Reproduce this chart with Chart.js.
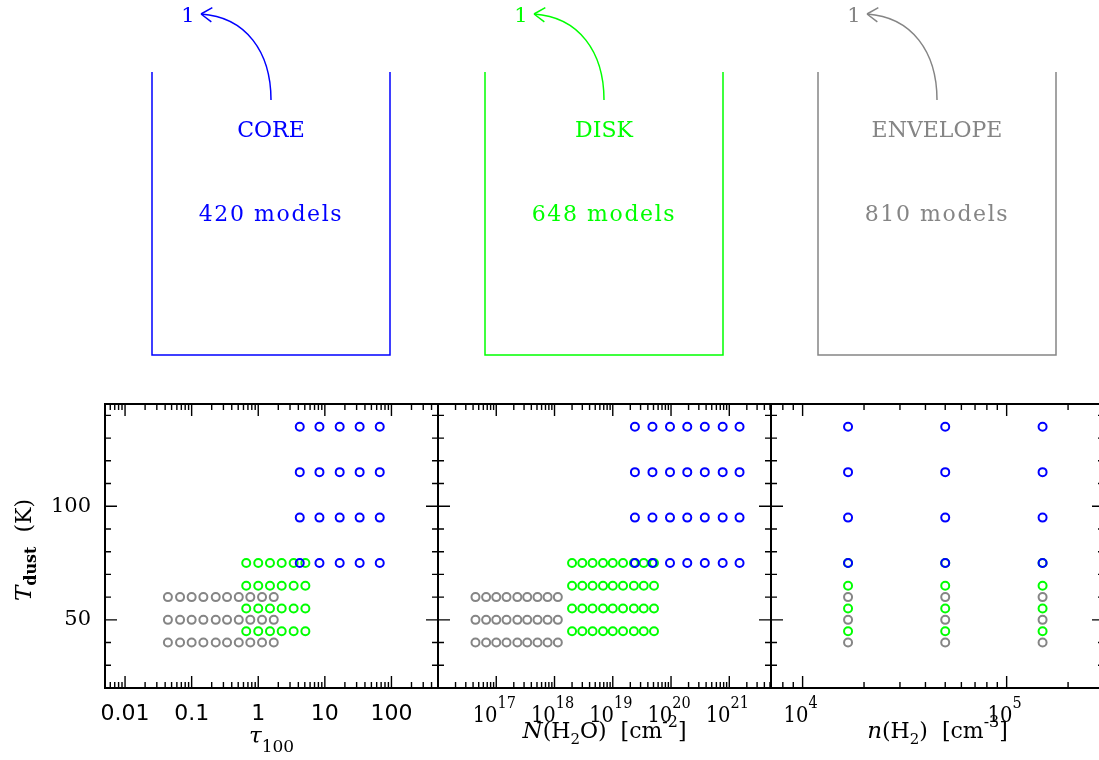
<!DOCTYPE html>
<html>
<head>
<meta charset="utf-8">
<script src="https://cdn.jsdelivr.net/npm/chart.js@4.4.8/dist/chart.umd.min.js"></script>
<style>
  html, body { margin: 0; padding: 0; background: #fff; overflow: hidden; }
  #wrap { position: relative; width: 1099px; height: 760px; overflow: hidden; }
  canvas { position: absolute; }
</style>
</head>
<body>
<div id="wrap">
  <canvas id="top" width="1099" height="394" style="left:0px;top:0px"></canvas>
  <canvas id="p1" width="448" height="366" style="left:0px;top:394px"></canvas>
  <canvas id="p2" width="343" height="366" style="left:438px;top:394px"></canvas>
  <canvas id="p3" width="333" height="366" style="left:771px;top:394px"></canvas>
</div>
<script>
/*  Data  */

// model grids (tau_100, N(H2O) cm^-2, n(H2) cm^-3, T_dust K)
const coreTau = [4.2, 8.3, 16.7, 33.3, 66.7];
const diskTau = [0.66, 1.0, 1.5, 2.25, 3.4, 5.1];
const envTau = [0.044, 0.067, 0.1, 0.15, 0.23, 0.34, 0.51, 0.76, 1.14, 1.71];

const coreCol = [2.4e19, 4.8e19, 9.6e19, 1.9e20, 3.8e20, 7.7e20, 1.5e21];
const diskCol = [2e18, 3e18, 4.5e18, 6.8e18, 1e19, 1.5e19, 2.3e19, 3.4e19, 5.1e19];
const envCol = [4.4e16, 6.7e16, 1e17, 1.5e17, 2.3e17, 3.4e17, 5.1e17, 7.6e17, 1.14e18];

const densH2 = [1.67e4, 5e4, 1.5e5];

const coreT = [75, 95, 115, 135];
const diskT = [45, 55, 65, 75];
const envT = [40, 50, 60];

const groupNames = ['CORE', 'DISK', 'ENVELOPE'];
const groupColors = ['#0000ff', '#00ff00', '#858585'];

// tick labels
const tauTicks = [0.01, 0.1, 1, 10, 100];
const colTicks = [1e17, 1e18, 1e19, 1e20, 1e21];
const densTicks = [1e4, 1e5];
const tempTicks = [50, 100];

const modelCounts = [
    coreTau.length * coreCol.length * densH2.length * coreT.length,
    diskTau.length * diskCol.length * densH2.length * diskT.length,
    envTau.length * envCol.length * densH2.length * envT.length
];


/*  Helpers  */

const SERIF = '"DejaVu Serif"';

function grid(xs, ys) {
    const pts = [];
    xs.forEach(x => ys.forEach(y => pts.push({x: x, y: y})));
    return pts;
}

function logMinors(lo, hi) {
    const out = [];
    for (let e = Math.floor(Math.log10(lo)); e <= Math.ceil(Math.log10(hi)); e++) {
        for (let m = 2; m < 10; m++) {
            const v = m * Math.pow(10, e);
            if (v >= lo && v <= hi) out.push(v);
        }
    }
    return out;
}

function richText(ctx, parts, x, y) {
    // parts: [text, font, dy]
    let w = 0;
    parts.forEach(p => { ctx.font = p[1]; w += ctx.measureText(p[0]).width; });
    let cx = x - w / 2;
    ctx.textAlign = 'left';
    ctx.textBaseline = 'alphabetic';
    parts.forEach(p => {
        ctx.font = p[1];
        ctx.fillText(p[0], cx, y + (p[2] || 0));
        cx += ctx.measureText(p[0]).width;
    });
}


/*  Plugins  */

const framePlugin = {
    id: 'frame',
    afterDraw(chart, args, o) {
        const {ctx, chartArea: a, scales: {x, y}} = chart;
        ctx.save();
        ctx.strokeStyle = '#000';
        ctx.fillStyle = '#000';
        ctx.lineWidth = 1.4;
        ctx.beginPath();
        const xt = (v, len) => {
            const px = x.getPixelForValue(v);
            ctx.moveTo(px, a.bottom); ctx.lineTo(px, a.bottom - len);
            ctx.moveTo(px, a.top); ctx.lineTo(px, a.top + len);
        };
        const yt = (v, len) => {
            const py = y.getPixelForValue(v);
            ctx.moveTo(a.left, py); ctx.lineTo(a.left + len, py);
            ctx.moveTo(a.right, py); ctx.lineTo(a.right - len, py);
        };
        o.xMajor.forEach(v => xt(v, 12));
        o.xMinor.forEach(v => xt(v, 6));
        o.yMajor.forEach(v => yt(v, 12));
        o.yMinor.forEach(v => yt(v, 6));
        ctx.stroke();
        ctx.lineWidth = 2;
        ctx.strokeRect(a.left, a.top, a.right - a.left, a.bottom - a.top);

        // power-of-ten tick labels, slightly condensed
        if (o.powers) {
            o.xMajor.forEach(v => {
                const e = Math.round(Math.log10(v));
                ctx.save();
                ctx.translate(x.getPixelForValue(v) - 2, a.bottom + 34);
                ctx.scale(0.85, 1);
                richText(ctx, [['10', '23px ' + SERIF, 0], [String(e), '17px ' + SERIF, -14]], 0, 0);
                ctx.restore();
            });
        }

        // axis titles
        const mid = (a.left + a.right) / 2;
        richText(ctx, o.xTitle, mid, a.bottom + o.xTitleY);
        if (o.yTitle) {
            ctx.save();
            ctx.translate(31, (a.top + a.bottom) / 2 + 4);
            ctx.rotate(-Math.PI / 2);
            richText(ctx, o.yTitle, 0, 0);
            ctx.restore();
        }
        ctx.restore();
    }
};

const bucketPlugin = {
    id: 'buckets',
    afterDraw(chart) {
        const {ctx, scales: {x, y}} = chart;
        const centers = [271, 604, 937];
        ctx.save();
        groupNames.forEach((name, i) => {
            const c = centers[i];
            ctx.strokeStyle = groupColors[i];
            ctx.fillStyle = groupColors[i];
            ctx.lineWidth = 1.5;

            // the bucket
            ctx.beginPath();
            ctx.moveTo(x.getPixelForValue(c - 119), y.getPixelForValue(72));
            ctx.lineTo(x.getPixelForValue(c - 119), y.getPixelForValue(355));
            ctx.lineTo(x.getPixelForValue(c + 119), y.getPixelForValue(355));
            ctx.lineTo(x.getPixelForValue(c + 119), y.getPixelForValue(72));
            ctx.stroke();

            // curved arrow out of the bucket
            const tipX = x.getPixelForValue(c - 70), tipY = y.getPixelForValue(14);
            ctx.beginPath();
            ctx.moveTo(x.getPixelForValue(c), y.getPixelForValue(100));
            ctx.bezierCurveTo(x.getPixelForValue(c), y.getPixelForValue(52),
                x.getPixelForValue(c - 25), y.getPixelForValue(17), tipX, tipY);
            ctx.stroke();
            const ang = Math.atan2(3, 43);
            ctx.beginPath();
            [0.58, -0.58].forEach(d => {
                ctx.moveTo(tipX, tipY);
                ctx.lineTo(tipX + 13 * Math.cos(ang + d), tipY + 13 * Math.sin(ang + d));
            });
            ctx.stroke();

            ctx.textAlign = 'center';
            ctx.textBaseline = 'alphabetic';
            ctx.font = '21px ' + SERIF;
            ctx.fillText('1', x.getPixelForValue(c - 83), y.getPixelForValue(22));
            ctx.font = '22px ' + SERIF;
            ctx.fillText(name, x.getPixelForValue(c), y.getPixelForValue(137));
            ctx.letterSpacing = '1.6px';
            ctx.fillText(modelCounts[i] + ' models', x.getPixelForValue(c), y.getPixelForValue(221));
            ctx.letterSpacing = '0px';
        });
        ctx.restore();
    }
};


/*  Charts  */

const I22 = 'italic 23px ' + SERIF;
const R22 = '22px ' + SERIF;
const R15 = '15px ' + SERIF;

const tempMinors = [20, 30, 40, 60, 70, 80, 90, 110, 120, 130, 140];

function panel(id, xs, opts) {
    const sets = [
        {data: grid(xs[0], coreT), borderColor: groupColors[0]},
        {data: grid(xs[1], diskT), borderColor: groupColors[1]},
        {data: grid(xs[2], envT), borderColor: groupColors[2]}
    ].map(d => Object.assign(d, {
        pointRadius: 4, pointBorderWidth: 2, backgroundColor: 'rgba(0,0,0,0)',
        pointStyle: 'circle', showLine: false
    }));

    return new Chart(document.getElementById(id), {
        type: 'scatter',
        data: {datasets: sets},
        options: {
            responsive: false,
            animation: false,
            events: [],
            layout: {autoPadding: false, padding: {top: 10, right: opts.padRight, left: 0, bottom: 0}},
            plugins: {
                legend: {display: false},
                tooltip: {enabled: false},
                frame: {
                    xMajor: opts.xTicks,
                    xMinor: logMinors(opts.xMin, opts.xMax),
                    yMajor: tempTicks,
                    yMinor: tempMinors,
                    powers: opts.powers,
                    xTitle: opts.xTitle,
                    xTitleY: opts.xTitleY,
                    yTitle: opts.yTitle
                }
            },
            scales: {
                x: {
                    type: 'logarithmic',
                    min: opts.xMin,
                    max: opts.xMax,
                    grid: {display: false, drawTicks: false},
                    border: {display: false},
                    afterBuildTicks: s => { s.ticks = opts.xTicks.map(v => ({value: v})); },
                    afterFit: s => { s.height = 72; s.paddingLeft = 0; s.paddingRight = 0; },
                    ticks: {
                        display: !opts.powers,
                        autoSkip: false,
                        maxRotation: 0,
                        padding: 13,
                        color: '#000',
                        font: {family: 'DejaVu Sans', size: 22},
                        callback: v => String(v)
                    }
                },
                y: {
                    type: 'linear',
                    display: opts.showY,
                    min: 20,
                    max: 145,
                    grid: {display: false, drawTicks: false},
                    border: {display: false},
                    afterBuildTicks: s => { s.ticks = tempTicks.map(v => ({value: v})); },
                    afterFit: s => {
                        s.width = opts.showY ? 105 : 0;
                        s.paddingTop = 0;
                        s.paddingBottom = 0;
                    },
                    ticks: {
                        padding: 14,
                        color: '#000',
                        font: {family: 'DejaVu Serif', size: 21}
                    }
                }
            }
        },
        plugins: [framePlugin]
    });
}

panel('p1', [coreTau, diskTau, envTau], {
    xMin: 0.005, xMax: 500, xTicks: tauTicks, powers: false, showY: true, padRight: 10,
    xTitle: [['τ', I22, 0], ['100', '17px ' + SERIF, 9]], xTitleY: 55,
    yTitle: [['T', I22, 0], ['dust', 'bold 16px ' + SERIF, 5], ['  (K)', R22, 0]]
});

panel('p2', [coreCol, diskCol, envCol], {
    xMin: 1e16, xMax: 5.2e21, xTicks: colTicks, powers: true, showY: false, padRight: 10,
    xTitle: [['N', I22, 0], ['(H', R22, 0], ['2', R15, 6], ['O)  [cm', R22, 0], ['-2', '16px ' + SERIF, -11], [']', R22, 0]],
    xTitleY: 50
});

panel('p3', [densH2, densH2, densH2], {
    xMin: 7e3, xMax: 3e5, xTicks: densTicks, powers: true, showY: false, padRight: 0,
    xTitle: [['n', I22, 0], ['(H', R22, 0], ['2', R15, 6], [')  [cm', R22, 0], ['-3', '16px ' + SERIF, -11], [']', R22, 0]],
    xTitleY: 50
});

new Chart(document.getElementById('top'), {
    type: 'scatter',
    data: {datasets: []},
    options: {
        responsive: false,
        animation: false,
        events: [],
        layout: {padding: 0},
        plugins: {legend: {display: false}, tooltip: {enabled: false}},
        scales: {
            x: {type: 'linear', min: 0, max: 1099, display: false},
            y: {type: 'linear', min: 0, max: 394, reverse: true, display: false}
        }
    },
    plugins: [bucketPlugin]
});
</script>
</body>
</html>
